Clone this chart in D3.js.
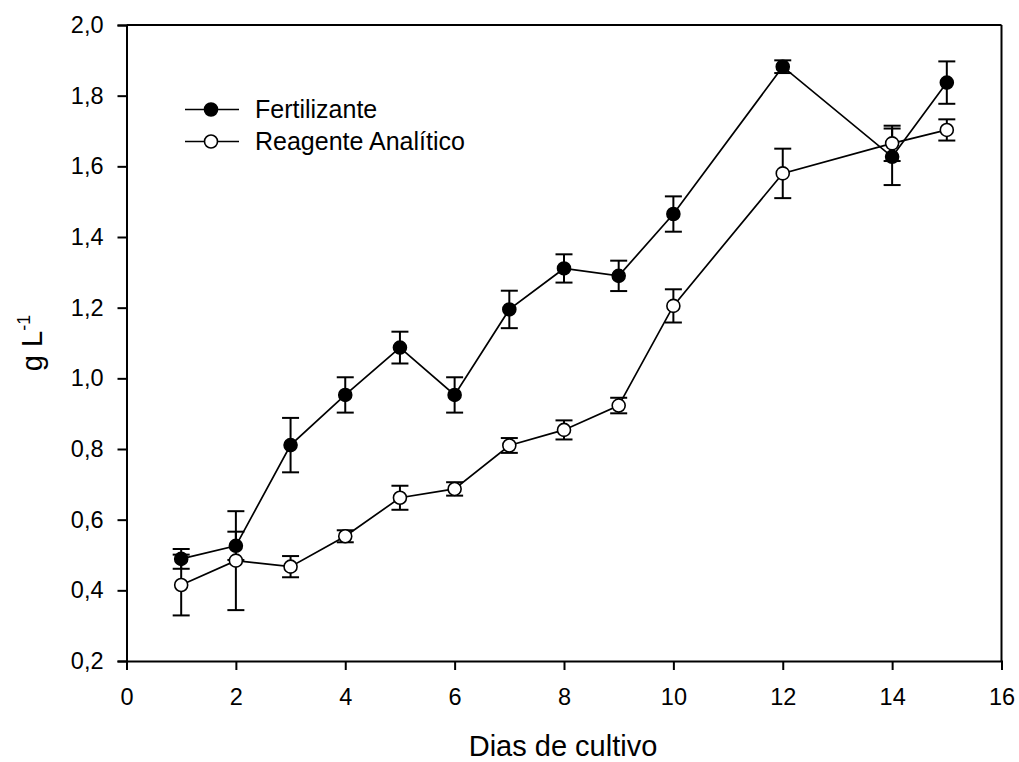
<!DOCTYPE html>
<html>
<head>
<meta charset="utf-8">
<script src="https://cdn.jsdelivr.net/npm/d3@7"></script>
<style>
  html, body { margin: 0; padding: 0; background: #fff; }
  svg { display: block; font-family: Arial, "Liberation Sans", sans-serif; }
</style>
</head>
<body>
<svg id="chart" width="1019" height="762"></svg>
<script>
// ---- data ----
const days = [1, 2, 3, 4, 5, 6, 7, 8, 9, 10, 12, 14, 15];
const fertilizante = [0.489, 0.526, 0.811, 0.953, 1.087, 0.953, 1.195, 1.311, 1.290, 1.465, 1.882, 1.627, 1.837];
const fertilizanteErr = [0.028, 0.040, 0.077, 0.050, 0.045, 0.050, 0.053, 0.040, 0.043, 0.050, 0.018, 0.080, 0.060];
const reagente = [0.415, 0.484, 0.467, 0.553, 0.662, 0.687, 0.810, 0.854, 0.923, 1.205, 1.580, 1.665, 1.703];
const reagenteErr = [0.086, 0.140, 0.030, 0.017, 0.034, 0.019, 0.021, 0.027, 0.022, 0.047, 0.070, 0.050, 0.030];
const xTicks = [0, 2, 4, 6, 8, 10, 12, 14, 16];
const yTicks = [0.2, 0.4, 0.6, 0.8, 1.0, 1.2, 1.4, 1.6, 1.8, 2.0];
const seriesNames = ["Fertilizante", "Reagente Analítico"];
const xTitle = "Dias de cultivo";

// ---- layout ----
const svg = d3.select("#chart");
const mLeft = 126.5, mRight = 1001.5, mTop = 25, mBottom = 661;
const x = d3.scaleLinear().domain([0, 16]).range([mLeft, mRight]);
const y = d3.scaleLinear().domain([0.2, 2.0]).range([mBottom, mTop]);
const fmt = d => d3.format(".1f")(d).replace(".", ",");

// frame (top & right)
svg.append("line").attr("x1", mLeft).attr("x2", mRight).attr("y1", mTop).attr("y2", mTop)
  .attr("stroke", "#000").attr("stroke-width", 2);
svg.append("line").attr("x1", mRight).attr("x2", mRight).attr("y1", mTop).attr("y2", mBottom)
  .attr("stroke", "#000").attr("stroke-width", 2);

// axes
const xAxis = svg.append("g").attr("transform", `translate(0,${mBottom})`)
  .call(d3.axisBottom(x).tickValues(xTicks).tickFormat(d3.format("d")).tickSize(9).tickPadding(18));
const yAxis = svg.append("g").attr("transform", `translate(${mLeft},0)`)
  .call(d3.axisLeft(y).tickValues(yTicks).tickFormat(fmt).tickSize(9).tickPadding(14));
[xAxis, yAxis].forEach(g => {
  g.select(".domain").attr("stroke-width", 2).attr("stroke", "#000");
  g.selectAll(".tick line").attr("stroke-width", 2).attr("stroke", "#000");
  g.selectAll(".tick text").attr("font-size", 23.5).attr("fill", "#000")
    .attr("font-family", "Arial, 'Liberation Sans', sans-serif");
});

// axis titles
svg.append("text").attr("x", (mLeft + mRight) / 2 - 1).attr("y", 756)
  .attr("text-anchor", "middle").attr("font-size", 29).text(xTitle);
const yt = svg.append("text")
  .attr("transform", `translate(42,${(mTop + mBottom) / 2}) rotate(-90)`)
  .attr("text-anchor", "middle").attr("font-size", 29);
yt.append("tspan").text("g L");
yt.append("tspan").attr("font-size", 18).attr("dy", -12).text("-1");

// data
const series = [
  { name: seriesNames[0], vals: fertilizante, errs: fertilizanteErr, fill: "#000" },
  { name: seriesNames[1], vals: reagente, errs: reagenteErr, fill: "#fff" }
];
const capW = 8.5;
const errG = svg.append("g");
series.forEach(s => {
  const pts = days.map((d, i) => ({ d, v: s.vals[i], e: s.errs[i] }));
  const g = errG.append("g").attr("stroke", "#000").attr("stroke-width", 2);
  g.selectAll(".v").data(pts).join("line")
    .attr("x1", p => x(p.d)).attr("x2", p => x(p.d))
    .attr("y1", p => y(p.v - p.e)).attr("y2", p => y(p.v + p.e));
  g.selectAll(".t").data(pts).join("line")
    .attr("x1", p => x(p.d) - capW).attr("x2", p => x(p.d) + capW)
    .attr("y1", p => y(p.v + p.e)).attr("y2", p => y(p.v + p.e));
  g.selectAll(".b").data(pts).join("line")
    .attr("x1", p => x(p.d) - capW).attr("x2", p => x(p.d) + capW)
    .attr("y1", p => y(p.v - p.e)).attr("y2", p => y(p.v - p.e));
});
const line = d3.line().x(p => x(p.d)).y(p => y(p.v));
series.forEach(s => {
  const pts = days.map((d, i) => ({ d, v: s.vals[i] }));
  svg.append("path").datum(pts).attr("d", line)
    .attr("fill", "none").attr("stroke", "#000").attr("stroke-width", 1.7);
});
series.forEach(s => {
  const pts = days.map((d, i) => ({ d, v: s.vals[i] }));
  svg.append("g").selectAll("circle").data(pts).join("circle")
    .attr("cx", p => x(p.d)).attr("cy", p => y(p.v)).attr("r", 6.5)
    .attr("fill", s.fill).attr("stroke", "#000").attr("stroke-width", 1.6);
});

// legend
const legY = [109.5, 141.5];
series.forEach((s, i) => {
  const g = svg.append("g");
  g.append("line").attr("x1", 185).attr("x2", 239).attr("y1", legY[i]).attr("y2", legY[i])
    .attr("stroke", "#000").attr("stroke-width", 1.7);
  g.append("circle").attr("cx", 211).attr("cy", legY[i]).attr("r", 6.5)
    .attr("fill", s.fill).attr("stroke", "#000").attr("stroke-width", 1.6);
  g.append("text").attr("x", 255).attr("y", legY[i] + 8.8).attr("font-size", 25).text(s.name);
});
</script>
</body>
</html>
